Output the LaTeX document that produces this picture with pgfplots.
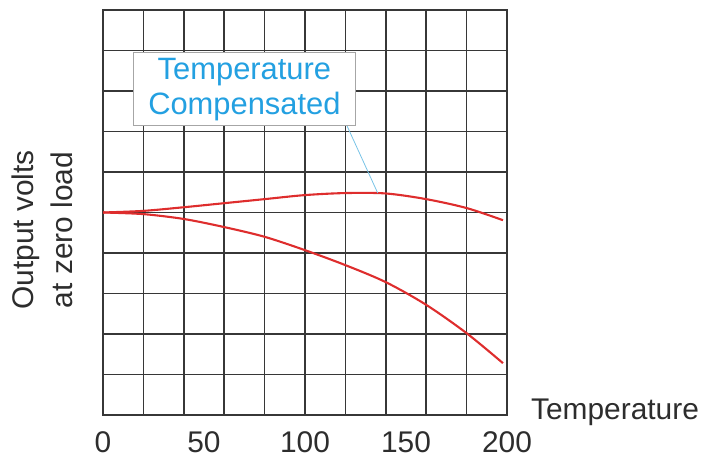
\documentclass[border=0pt]{standalone}
\usepackage{fontspec}
\setmainfont{Liberation Sans}
\usepackage{pgfplots}
\pgfplotsset{compat=1.18}
\definecolor{gridc}{RGB}{55,55,55}
\definecolor{curvec}{RGB}{222,45,45}
\definecolor{annot}{RGB}{35,160,225}
\definecolor{leader}{RGB}{120,195,230}
\definecolor{txt}{RGB}{45,45,45}
\begin{document}
\begin{tikzpicture}
\useasboundingbox (0,0) rectangle (709bp,459bp);
\begin{axis}[
 at={(103bp,44bp)}, anchor=south west,
 scale only axis, width=404bp, height=405bp,
 xmin=0, xmax=200, ymin=0, ymax=10,
 xtick={0,50,100,150,200},
 minor xtick={0,20,...,200},
 ytick={0,1,...,10}, yticklabels={},
 major tick length=0, minor tick length=0,
 xminorgrids, ymajorgrids,
 grid style={gridc, line width=1.6bp},
 minor grid style={gridc, line width=1.6bp},
 axis line style={gridc, line width=1.6bp},
 /pgf/number format/assume math mode=true,
 xticklabel style={font=\fontsize{30}{30}\selectfont, text=txt, anchor=center, inner sep=0pt, yshift=-27bp},
 clip=false,
]
\addplot[curvec, line width=2.1bp, smooth] coordinates {
(0,5.00) (20,5.04) (40,5.13) (60,5.23) (80,5.33) (100,5.43) (120,5.48) (140,5.47) (160,5.33) (180,5.11) (198,4.81)};
\addplot[curvec, line width=2.1bp, smooth] coordinates {
(0,5.00) (20,4.96) (40,4.84) (60,4.64) (80,4.40) (100,4.07) (120,3.70) (140,3.28) (160,2.72) (180,2.02) (198,1.28)};
\draw[leader, line width=0.8bp] (axis cs:120.8,7.14) -- (axis cs:136,5.48);
\node[draw=gray!70, fill=white, line width=0.8bp, minimum width=222bp, minimum height=73bp, align=center, text=annot, font=\fontsize{31}{35}\selectfont, inner sep=0pt] at (axis cs:70,8.04) {Temperature\\Compensated};
\end{axis}
\node[rotate=90, align=center, font=\fontsize{30}{39}\selectfont, text=txt] at (42bp,229bp) {Output volts\\at zero load};
\node[font=\fontsize{30}{30}\selectfont, text=txt] at (615bp,47bp) {Temperature};
\end{tikzpicture}
\end{document}
